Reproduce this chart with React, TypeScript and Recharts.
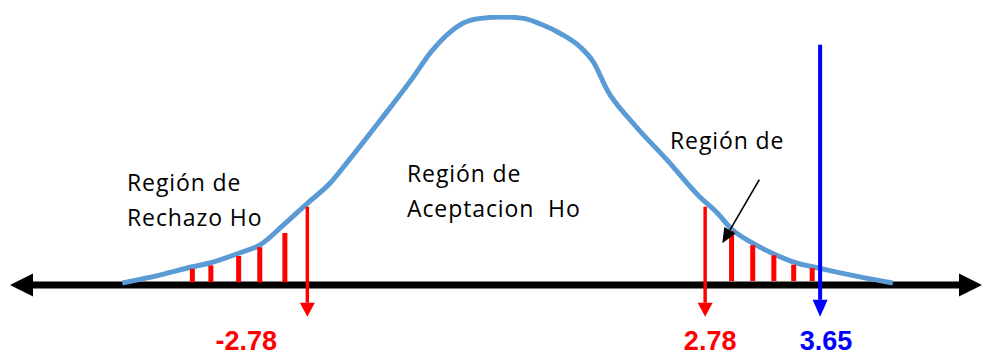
import React from 'react';
import { ComposedChart, Line, XAxis, YAxis, ReferenceLine, Customized } from 'recharts';

// Bell curve: standardised statistic and its density
const curveZ = [
  -4.18, -3.89, -3.65, -3.51, -3.3, -3.14, -2.96, -2.78, -2.46, -2.22, -1.76, -1.3, -1.06, -0.78, -0.6, -0.36,
  -0.04, 0.24, 0.47, 0.75, 1.03, 1.22, 1.41, 1.77, 2.25, 2.71, 2.87, 2.98, 3.14, 3.3, 3.45, 3.64, 3.95, 4.2,
];
const curveDensity = [
  0.003, 0.015, 0.027, 0.033, 0.047, 0.059, 0.089, 0.121, 0.151, 0.182, 0.244, 0.308, 0.344, 0.375, 0.388, 0.395,
  0.397, 0.395, 0.387, 0.373, 0.353, 0.33, 0.289, 0.24, 0.185, 0.13, 0.107, 0.083, 0.062, 0.046, 0.034, 0.025,
  0.012, 0.003,
];

// Shaded rejection tails (hatch positions and heights)
const leftHatchZ = [-3.65, -3.51, -3.3, -3.14, -2.95];
const leftHatchTop = [0.024, 0.029, 0.043, 0.056, 0.077];
const rightHatchZ = [2.98, 3.14, 3.3, 3.45, 3.59];
const rightHatchTop = [0.08, 0.059, 0.044, 0.03, 0.025];

// Critical values and the observed statistic
const criticalValues = [-2.78, 2.78];
const criticalTop = 0.116;
const observedValue = 3.65;
const observedTop = 0.356;
const arrowDepth = -0.047;

// Pointer from the right-hand caption towards the tail
const pointerFrom = { x: 3.19, y: 0.156 };
const pointerTo = { x: 2.91, y: 0.062 };

// Captions
const captionLines = [
  ['Región de', 'Rechazo Ho'],
  ['Región de', 'Aceptacion  Ho'],
  ['Región de'],
];

const curve = curveZ.map((z, i) => ({ z, density: curveDensity[i] }));

const Z_MIN = -5.03;
const Z_MAX = 4.875;
const CRIT = 2.78;
const TAIL_STRETCH = 1.847;

const RED = '#FF0000';
const BLUE = '#0000FF';
const CURVE = '#5B9BD5';

// Linear scale whose tails beyond ±CRIT are drawn wider than the centre band
function tailStretchScale(crit: number, stretch: number): any {
  let dom: number[] = [-1, 1];
  let rng: number[] = [0, 1];
  const warp = (v: number) => {
    if (v > crit) return crit + (v - crit) * stretch;
    if (v < -crit) return -crit + (v + crit) * stretch;
    return v;
  };
  const unwarp = (w: number) => {
    if (w > crit) return crit + (w - crit) / stretch;
    if (w < -crit) return -crit + (w + crit) / stretch;
    return w;
  };
  const scale: any = (v: number) => {
    const a = warp(dom[0]);
    const b = warp(dom[dom.length - 1]);
    const r0 = rng[0];
    const r1 = rng[rng.length - 1];
    return r0 + ((warp(Number(v)) - a) / (b - a)) * (r1 - r0);
  };
  scale.domain = (d?: number[]) => {
    if (d === undefined) return dom.slice();
    dom = d.map(Number);
    return scale;
  };
  scale.range = (r?: number[]) => {
    if (r === undefined) return rng.slice();
    rng = r.map(Number);
    return scale;
  };
  scale.invert = (px: number) => {
    const a = warp(dom[0]);
    const b = warp(dom[dom.length - 1]);
    const r0 = rng[0];
    const r1 = rng[rng.length - 1];
    return unwarp(a + ((px - r0) / (r1 - r0)) * (b - a));
  };
  scale.copy = () => tailStretchScale(crit, stretch).domain(dom).range(rng);
  scale.ticks = () => [-crit, 0, crit];
  scale.tickFormat = () => (v: number) => String(v);
  scale.nice = () => scale;
  scale.clamp = () => scale;
  return scale;
}

const xScale = tailStretchScale(CRIT, TAIL_STRETCH);

function headPoints(x1: number, y1: number, x2: number, y2: number, len: number, half: number) {
  const dx = x2 - x1;
  const dy = y2 - y1;
  const l = Math.hypot(dx, dy) || 1;
  const ux = dx / l;
  const uy = dy / l;
  const bx = x2 - ux * len;
  const by = y2 - uy * len;
  return {
    base: { x: bx, y: by },
    points: `${x2},${y2} ${bx - uy * half},${by + ux * half} ${bx + uy * half},${by - ux * half}`,
  };
}

type ArrowLabel = { text: string; dx: number };

const arrowShape =
  (color: string, width: number, len: number, half: number, label?: ArrowLabel) =>
  (p: any) => {
    const { x1, y1, x2, y2 } = p;
    const h = headPoints(x1, y1, x2, y2, len, half);
    return (
      <g>
        <line x1={x1} y1={y1} x2={h.base.x} y2={h.base.y} stroke={color} strokeWidth={width} />
        <polygon points={h.points} fill={color} />
        {label && (
          <text
            x={x2 + label.dx}
            y={y2 + 33}
            textAnchor="middle"
            fill={color}
            fontFamily="'Liberation Sans', Arial, sans-serif"
            fontWeight="bold"
            fontSize={27}
          >
            {label.text}
          </text>
        )}
      </g>
    );
  };

const doubleArrowShape = (p: any) => {
  const { x1, y1, x2, y2 } = p;
  const a = headPoints(x2, y2, x1, y1, 23, 11.5);
  const b = headPoints(x1, y1, x2, y2, 23, 11.5);
  return (
    <g>
      <line x1={a.base.x} y1={a.base.y} x2={b.base.x} y2={b.base.y} stroke="#000" strokeWidth={7} />
      <polygon points={a.points} fill="#000" />
      <polygon points={b.points} fill="#000" />
    </g>
  );
};

const hatchShape = (p: any) => (
  <line x1={p.x1} y1={p.y1} x2={p.x2} y2={p.y2} stroke={RED} strokeWidth={5} />
);

// Horizontal nudge of each value label relative to its arrow
const labelNudge: Record<string, number> = { '-2.78': -61, '2.78': 5, '3.65': 6 };

const captionPlace = [
  { x: 127, y: 191 },
  { x: 407, y: 182 },
  { x: 670, y: 149 },
];

const Captions = () => (
  <g>
    {captionLines.map((lines, i) => (
      <text
        key={i}
        x={captionPlace[i].x}
        y={captionPlace[i].y}
        fill="#000"
        fontFamily="'Open Sans', sans-serif"
        fontSize={23}
        letterSpacing={0.9}
        style={{ whiteSpace: 'pre' }}
      >
        {lines.map((t, j) => (
          <tspan key={j} x={captionPlace[i].x} dy={j === 0 ? 0 : 35}>
            {t}
          </tspan>
        ))}
      </text>
    ))}
  </g>
);

export default function App() {
  return (
    <div style={{ position: 'absolute', left: 0, top: 0, width: 982, height: 356, background: '#fff' }}>
      <ComposedChart
        width={982}
        height={356}
        data={curve}
        margin={{ top: 15, right: 0, bottom: 3.5, left: 10 }}
      >
        <XAxis
          dataKey="z"
          type="number"
          scale={xScale}
          domain={[Z_MIN, Z_MAX]}
          allowDataOverflow
          hide
          height={0}
        />
        <YAxis type="number" domain={[-0.1, 0.4]} allowDataOverflow hide width={0} />
        <ReferenceLine
          segment={[
            { x: Z_MIN, y: 0 },
            { x: Z_MAX, y: 0 },
          ]}
          shape={doubleArrowShape}
          ifOverflow="visible"
        />
        <Line
          dataKey="density"
          type="monotone"
          stroke={CURVE}
          strokeWidth={5}
          dot={false}
          activeDot={false}
          isAnimationActive={false}
        />
        {leftHatchZ.map((z, i) => (
          <ReferenceLine
            key={`l${i}`}
            segment={[
              { x: z, y: 0.004 },
              { x: z, y: leftHatchTop[i] },
            ]}
            shape={hatchShape}
            ifOverflow="visible"
          />
        ))}
        {rightHatchZ.map((z, i) => (
          <ReferenceLine
            key={`r${i}`}
            segment={[
              { x: z, y: 0.006 },
              { x: z, y: rightHatchTop[i] },
            ]}
            shape={hatchShape}
            ifOverflow="visible"
          />
        ))}
        {criticalValues.map((c) => (
          <ReferenceLine
            key={`c${c}`}
            segment={[
              { x: c, y: criticalTop },
              { x: c, y: arrowDepth },
            ]}
            shape={arrowShape(RED, 3.5, 14, 7.5, { text: c.toFixed(2), dx: labelNudge[c.toFixed(2)] })}
            ifOverflow="visible"
          />
        ))}
        <ReferenceLine
          segment={[
            { x: observedValue, y: observedTop },
            { x: observedValue, y: arrowDepth },
          ]}
          shape={arrowShape(BLUE, 4, 17, 7.5, {
            text: observedValue.toFixed(2),
            dx: labelNudge[observedValue.toFixed(2)],
          })}
          ifOverflow="visible"
        />
        <ReferenceLine segment={[pointerFrom, pointerTo]} shape={arrowShape('#000', 1.6, 15, 6.5)} ifOverflow="visible" />
        <Customized component={<Captions />} />
      </ComposedChart>
    </div>
  );
}
